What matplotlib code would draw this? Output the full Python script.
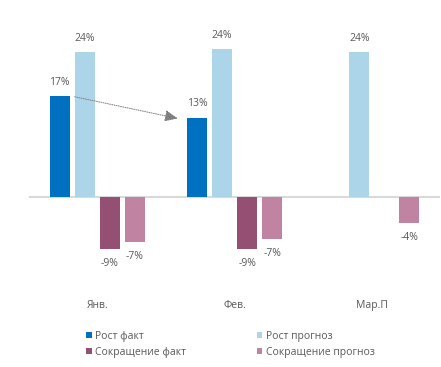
import numpy as np
import matplotlib
matplotlib.use("Agg")
import matplotlib.pyplot as plt

categories = ["Янв.", "Фев.", "Мар.П"]
series_names = ["Рост факт", "Рост прогноз", "Сокращение факт", "Сокращение прогноз"]
growth_fact = [16.7, 13.1, np.nan]
growth_fcst = [24.0, 24.5, 24.0]
decline_fact = [-8.6, -8.6, np.nan]
decline_fcst = [-7.4, -7.0, -4.3]
label_fact = ["17%", "13%", ""]
label_fcst = ["24%", "24%", "24%"]
label_dfact = ["-9%", "-9%", ""]
label_dfcst = ["-7%", "-7%", "-4%"]

colors = ["#0070C0", "#ADD5EA", "#954F72", "#C084A2"]
text_color = "#595959"
plt.rcParams['font.family'] = ['Open Sans', 'DejaVu Sans']
fs = 7.5

W, H = 441, 367
fig = plt.figure(figsize=(W / 100, H / 100), dpi=100)
ymin, ymax = -12, 28
zero_px = 197
ppu = 6.04
top_px = zero_px - ymax * ppu
bot_px = zero_px - ymin * ppu
ax = fig.add_axes([28.5 / W, 1 - bot_px / H, 412 / W, (bot_px - top_px) / H])
ax.set_xlim(-0.5, 2.5)
ax.set_ylim(ymin, ymax)

x = np.arange(len(categories))
slot = 25 / 137
bw = 20 / 137
data = [growth_fact, growth_fcst, decline_fact, decline_fcst]
labels = [label_fact, label_fcst, label_dfact, label_dfcst]
handles = []
for i, (vals, labs) in enumerate(zip(data, labels)):
    pos = x + (i - 1.5) * slot
    b = ax.bar(pos, vals, bw, color=colors[i], label=series_names[i], zorder=2)
    handles.append(b)
    for p, v, l in zip(pos, vals, labs):
        if np.isnan(v) or not l:
            continue
        off = 10 if v > 0 else -10.5
        ax.annotate(l, (p, v), xytext=(0, off), textcoords="offset points",
                    ha="center", va="center", fontsize=fs, color=text_color)

ax.axhline(0, color="#D9D9D9", lw=1.5, zorder=1)

# arrow from Jan fact to Feb fact
x0 = x[0] + (-1.5) * slot + bw / 2 + 5 / 137
x1 = x[1] + (-1.5) * slot - bw / 2 - 9 / 137
ax.annotate("", xy=(x1, growth_fact[1] - 0.1), xytext=(x0, growth_fact[0] - 0.1),
            arrowprops=dict(arrowstyle="-|>,head_length=0.8,head_width=0.35",
                            color="#7F7F7F", lw=0.7, linestyle=(0, (1, 1.3)),
                            shrinkA=0, shrinkB=0), zorder=3)

for s in ax.spines.values():
    s.set_visible(False)
ax.set_yticks([])
ax.set_xticks(x)
ax.set_xticklabels(categories, fontsize=fs, color=text_color)
ax.tick_params(axis="x", length=0, pad=22)

order = [0, 2, 1, 3]
fig.legend(handles=[handles[i] for i in order], labels=[series_names[i] for i in order],
           ncol=2, loc="upper left",
           bbox_to_anchor=(86 / W, 1 - 331 / H), frameon=False, fontsize=fs,
           labelcolor=text_color, handlelength=0.55, handleheight=0.55,
           handletextpad=0.3, columnspacing=6.8, labelspacing=0.45,
           borderaxespad=0, borderpad=0)

fig.savefig("out.png", dpi=100)
